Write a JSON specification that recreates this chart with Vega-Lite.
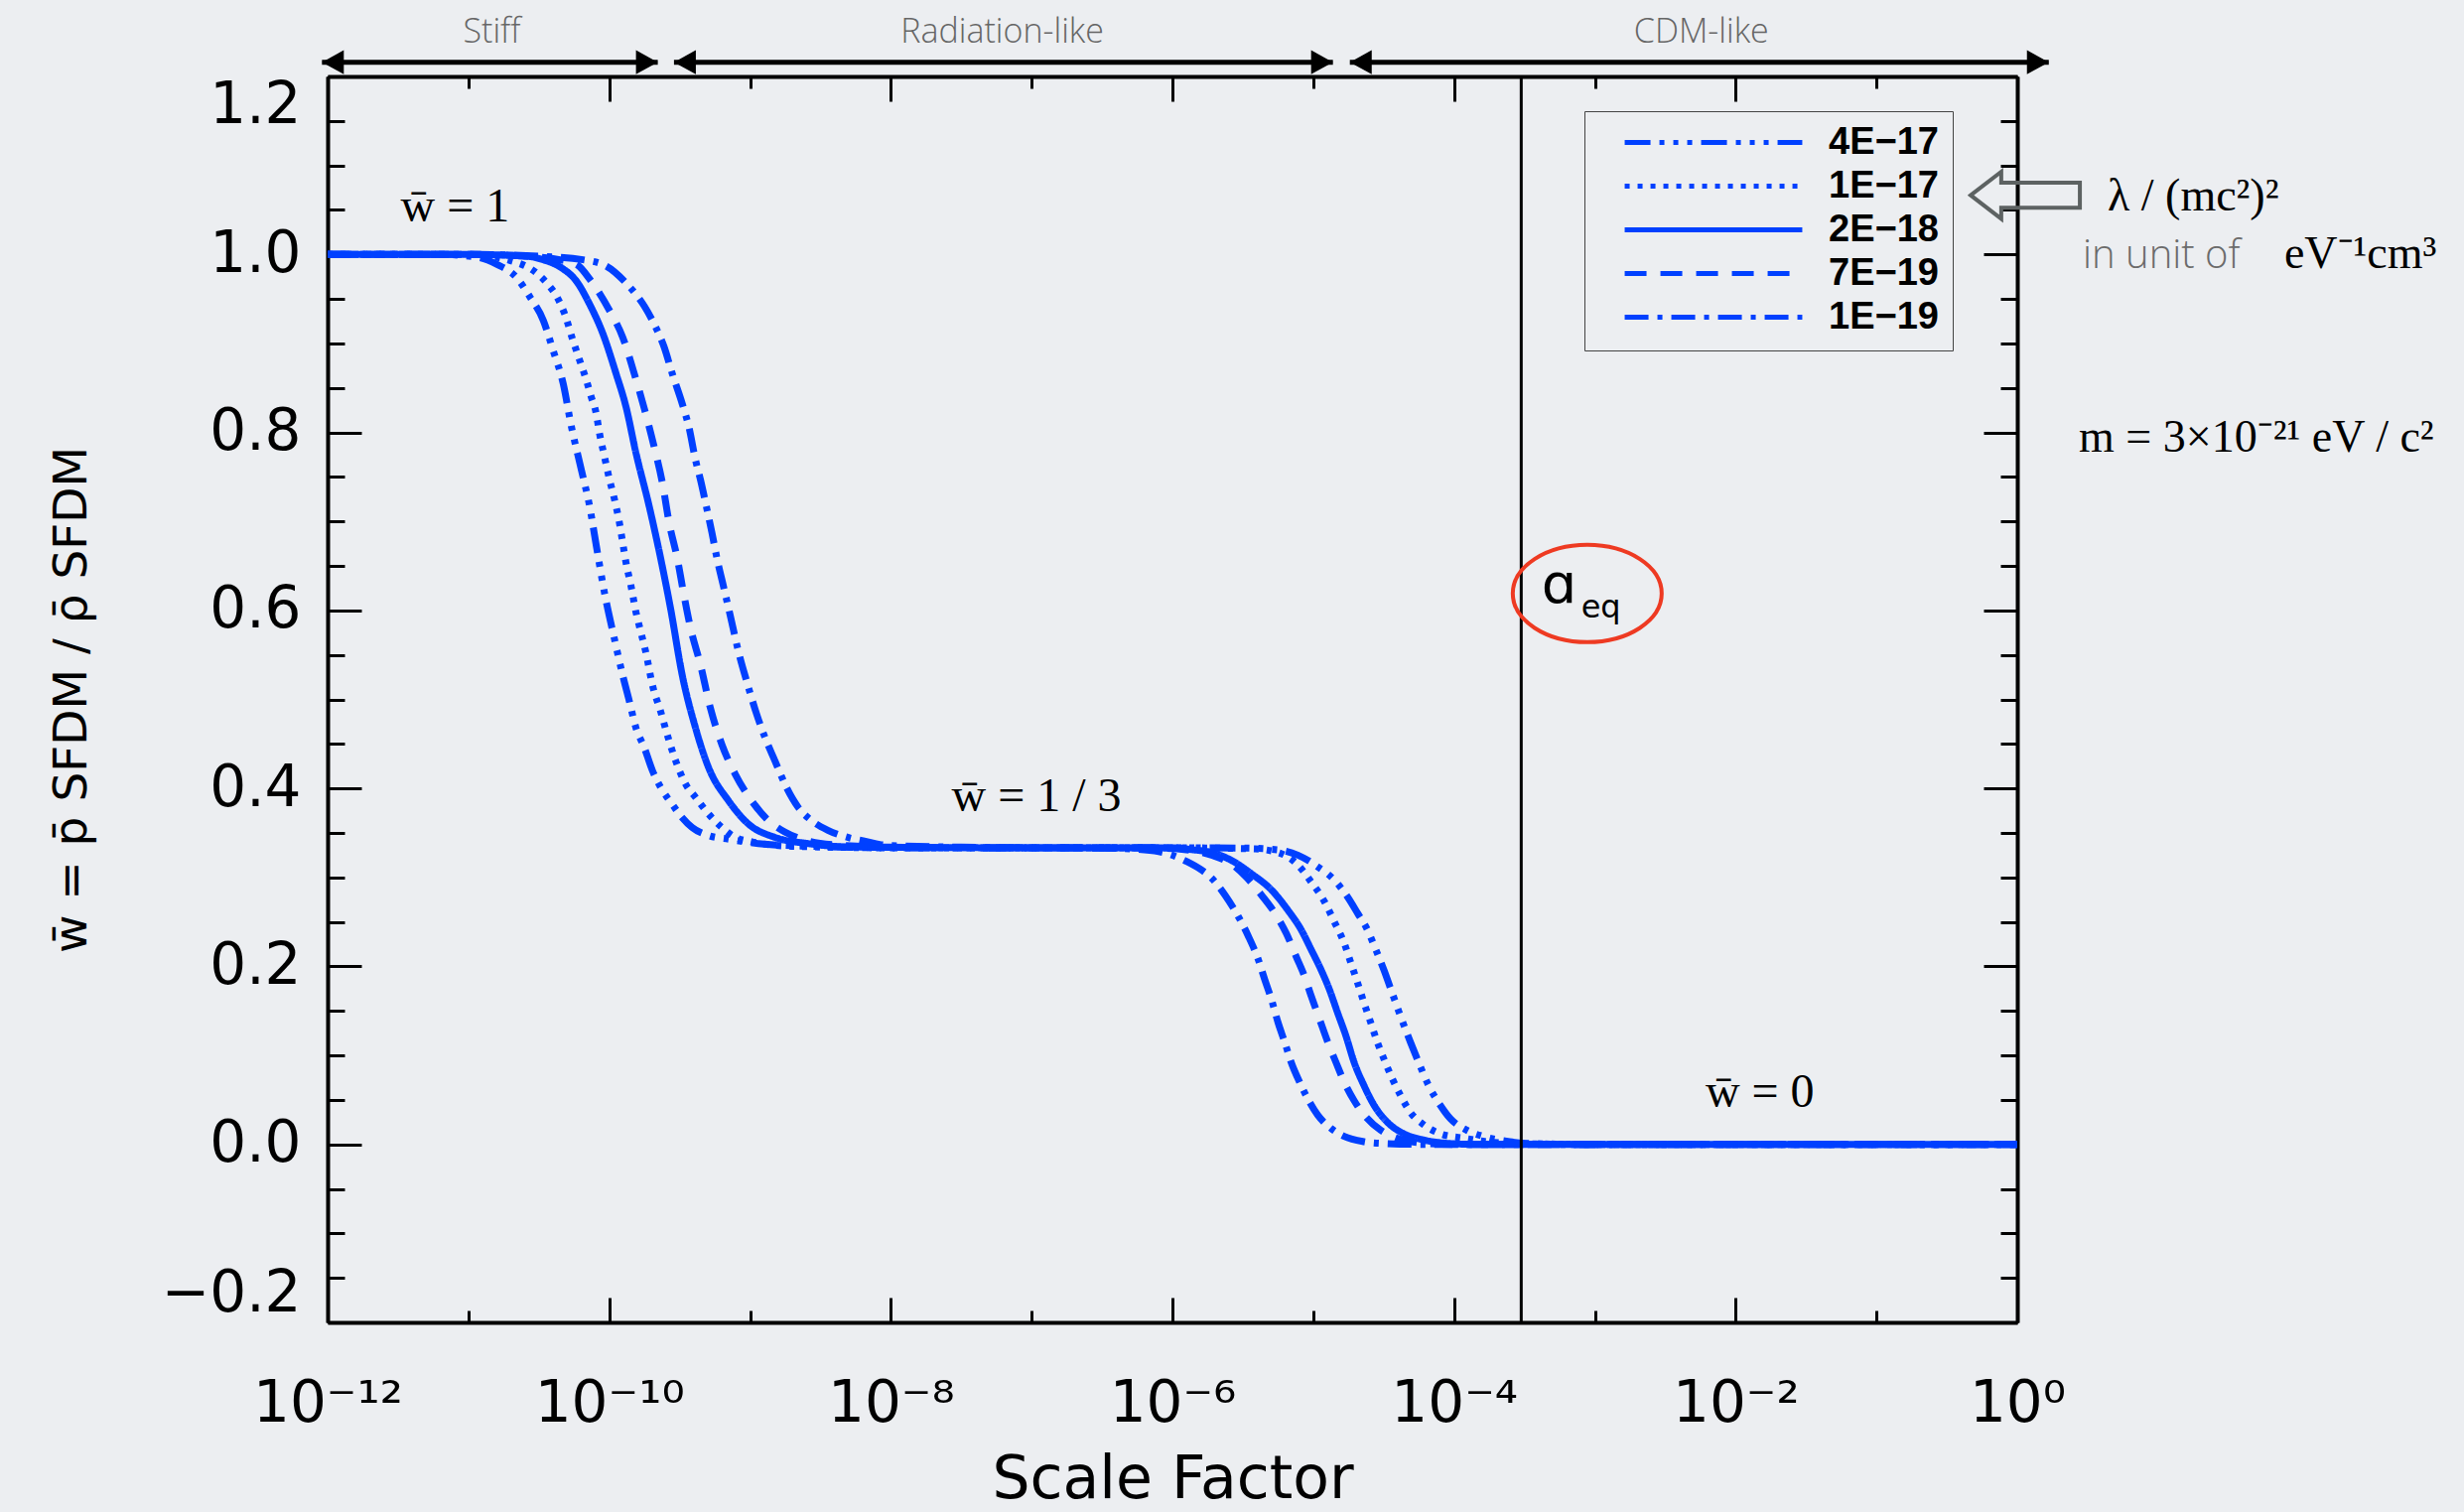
{
  "$schema": "https://vega.github.io/schema/vega-lite/v6.json",
  "width": 1702,
  "height": 1255,
  "autosize": {"type": "none"},
  "padding": {"left": 330, "top": 77, "right": 450, "bottom": 191},
  "background": "#eceef1",
  "config": {
    "view": {"stroke": null},
    "axis": {"grid": false, "domainColor": "#000000", "tickColor": "#000000", "labelColor": "#000000", "titleColor": "#000000"}
  },
  "resolve": {"axis": {"x": "independent", "y": "independent"}},
  "datasets": {
    "curves": [
      {"s": "4E−17", "a": 1e-12, "w": 1}, {"s": "4E−17", "a": 6.31e-12, "w": 1}, {"s": "4E−17", "a": 1.148e-11, "w": 0.997}, {"s": "4E−17", "a": 1.585e-11, "w": 0.989}, {"s": "4E−17", "a": 2.2e-11, "w": 0.974}, {"s": "4E−17", "a": 2.74e-11, "w": 0.952}, {"s": "4E−17", "a": 3.4e-11, "w": 0.926}, {"s": "4E−17", "a": 4.0e-11, "w": 0.892}, {"s": "4E−17", "a": 4.71e-11, "w": 0.855}, {"s": "4E−17", "a": 5.38e-11, "w": 0.807}, {"s": "4E−17", "a": 6.34e-11, "w": 0.758}, {"s": "4E−17", "a": 7.26e-11, "w": 0.717}, {"s": "4E−17", "a": 8.09e-11, "w": 0.673}, {"s": "4E−17", "a": 9.25e-11, "w": 0.62}, {"s": "4E−17", "a": 1.089e-10, "w": 0.568}, {"s": "4E−17", "a": 1.247e-10, "w": 0.527}, {"s": "4E−17", "a": 1.39e-10, "w": 0.498}, {"s": "4E−17", "a": 1.549e-10, "w": 0.468}, {"s": "4E−17", "a": 1.774e-10, "w": 0.446}, {"s": "4E−17", "a": 2.028e-10, "w": 0.42}, {"s": "4E−17", "a": 2.323e-10, "w": 0.401}, {"s": "4E−17", "a": 2.805e-10, "w": 0.382}, {"s": "4E−17", "a": 3.304e-10, "w": 0.367}, {"s": "4E−17", "a": 3.882e-10, "w": 0.356}, {"s": "4E−17", "a": 5.093e-10, "w": 0.347}, {"s": "4E−17", "a": 7.047e-10, "w": 0.343}, {"s": "4E−17", "a": 1.148e-9, "w": 0.338}, {"s": "4E−17", "a": 2.582e-9, "w": 0.335}, {"s": "4E−17", "a": 1e-8, "w": 0.3333}, {"s": "4E−17", "a": 1e-7, "w": 0.3333}, {"s": "4E−17", "a": 1e-6, "w": 0.3333}, {"s": "4E−17", "a": 3.16e-6, "w": 0.333}, {"s": "4E−17", "a": 5.623e-6, "w": 0.331}, {"s": "4E−17", "a": 7.78e-6, "w": 0.325}, {"s": "4E−17", "a": 1.076e-5, "w": 0.312}, {"s": "4E−17", "a": 1.413e-5, "w": 0.297}, {"s": "4E−17", "a": 1.754e-5, "w": 0.278}, {"s": "4E−17", "a": 2.061e-5, "w": 0.26}, {"s": "4E−17", "a": 2.427e-5, "w": 0.241}, {"s": "4E−17", "a": 2.78e-5, "w": 0.219}, {"s": "4E−17", "a": 3.177e-5, "w": 0.196}, {"s": "4E−17", "a": 3.639e-5, "w": 0.17}, {"s": "4E−17", "a": 4.169e-5, "w": 0.144}, {"s": "4E−17", "a": 4.898e-5, "w": 0.115}, {"s": "4E−17", "a": 5.61e-5, "w": 0.092}, {"s": "4E−17", "a": 6.607e-5, "w": 0.066}, {"s": "4E−17", "a": 7.98e-5, "w": 0.044}, {"s": "4E−17", "a": 9.397e-5, "w": 0.029}, {"s": "4E−17", "a": 1.23e-4, "w": 0.016}, {"s": "4E−17", "a": 1.702e-4, "w": 0.008}, {"s": "4E−17", "a": 2.489e-4, "w": 0.003}, {"s": "4E−17", "a": 3.443e-4, "w": 0.001}, {"s": "4E−17", "a": 1e-3, "w": 0}, {"s": "4E−17", "a": 1, "w": 0},

      {"s": "1E−17", "a": 1e-12, "w": 1}, {"s": "1E−17", "a": 1e-11, "w": 1}, {"s": "1E−17", "a": 1.995e-11, "w": 0.993}, {"s": "1E−17", "a": 3.055e-11, "w": 0.979}, {"s": "1E−17", "a": 3.69e-11, "w": 0.966}, {"s": "1E−17", "a": 4.227e-11, "w": 0.953}, {"s": "1E−17", "a": 4.831e-11, "w": 0.933}, {"s": "1E−17", "a": 5.534e-11, "w": 0.903}, {"s": "1E−17", "a": 6.166e-11, "w": 0.881}, {"s": "1E−17", "a": 6.871e-11, "w": 0.859}, {"s": "1E−17", "a": 7.447e-11, "w": 0.84}, {"s": "1E−17", "a": 8.091e-11, "w": 0.821}, {"s": "1E−17", "a": 8.531e-11, "w": 0.799}, {"s": "1E−17", "a": 9.247e-11, "w": 0.773}, {"s": "1E−17", "a": 1.005e-10, "w": 0.747}, {"s": "1E−17", "a": 1.089e-10, "w": 0.725}, {"s": "1E−17", "a": 1.18e-10, "w": 0.699}, {"s": "1E−17", "a": 1.247e-10, "w": 0.676}, {"s": "1E−17", "a": 1.315e-10, "w": 0.654}, {"s": "1E−17", "a": 1.426e-10, "w": 0.628}, {"s": "1E−17", "a": 1.549e-10, "w": 0.598}, {"s": "1E−17", "a": 1.633e-10, "w": 0.583}, {"s": "1E−17", "a": 1.82e-10, "w": 0.553}, {"s": "1E−17", "a": 2.028e-10, "w": 0.516}, {"s": "1E−17", "a": 2.323e-10, "w": 0.486}, {"s": "1E−17", "a": 2.588e-10, "w": 0.46}, {"s": "1E−17", "a": 2.965e-10, "w": 0.431}, {"s": "1E−17", "a": 3.483e-10, "w": 0.405}, {"s": "1E−17", "a": 4.102e-10, "w": 0.39}, {"s": "1E−17", "a": 5.093e-10, "w": 0.371}, {"s": "1E−17", "a": 6.324e-10, "w": 0.356}, {"s": "1E−17", "a": 7.852e-10, "w": 0.345}, {"s": "1E−17", "a": 1.028e-9, "w": 0.34}, {"s": "1E−17", "a": 1.972e-9, "w": 0.335}, {"s": "1E−17", "a": 1e-8, "w": 0.3333}, {"s": "1E−17", "a": 1e-7, "w": 0.3333}, {"s": "1E−17", "a": 1e-6, "w": 0.3333}, {"s": "1E−17", "a": 3.855e-6, "w": 0.332}, {"s": "1E−17", "a": 5.623e-6, "w": 0.328}, {"s": "1E−17", "a": 7.78e-6, "w": 0.314}, {"s": "1E−17", "a": 9.66e-6, "w": 0.295}, {"s": "1E−17", "a": 1.199e-5, "w": 0.273}, {"s": "1E−17", "a": 1.413e-5, "w": 0.25}, {"s": "1E−17", "a": 1.66e-5, "w": 0.226}, {"s": "1E−17", "a": 1.849e-5, "w": 0.204}, {"s": "1E−17", "a": 2.061e-5, "w": 0.182}, {"s": "1E−17", "a": 2.296e-5, "w": 0.159}, {"s": "1E−17", "a": 2.559e-5, "w": 0.137}, {"s": "1E−17", "a": 2.851e-5, "w": 0.115}, {"s": "1E−17", "a": 3.177e-5, "w": 0.096}, {"s": "1E−17", "a": 3.639e-5, "w": 0.074}, {"s": "1E−17", "a": 4.169e-5, "w": 0.055}, {"s": "1E−17", "a": 4.898e-5, "w": 0.036}, {"s": "1E−17", "a": 6.095e-5, "w": 0.022}, {"s": "1E−17", "a": 7.98e-5, "w": 0.012}, {"s": "1E−17", "a": 1.167e-4, "w": 0.007}, {"s": "1E−17", "a": 1.702e-4, "w": 0.003}, {"s": "1E−17", "a": 2.773e-4, "w": 0.001}, {"s": "1E−17", "a": 1e-3, "w": 0}, {"s": "1E−17", "a": 1, "w": 0},

      {"s": "2E−18", "a": 1e-12, "w": 1}, {"s": "2E−18", "a": 1e-11, "w": 1}, {"s": "2E−18", "a": 2.594e-11, "w": 0.998}, {"s": "2E−18", "a": 3.404e-11, "w": 0.994}, {"s": "2E−18", "a": 4.581e-11, "w": 0.985}, {"s": "2E−18", "a": 5.848e-11, "w": 0.97}, {"s": "2E−18", "a": 7.261e-11, "w": 0.944}, {"s": "2E−18", "a": 9.016e-11, "w": 0.911}, {"s": "2E−18", "a": 1.119e-10, "w": 0.866}, {"s": "2E−18", "a": 1.315e-10, "w": 0.829}, {"s": "2E−18", "a": 1.549e-10, "w": 0.777}, {"s": "2E−18", "a": 1.923e-10, "w": 0.717}, {"s": "2E−18", "a": 2.323e-10, "w": 0.658}, {"s": "2E−18", "a": 2.729e-10, "w": 0.602}, {"s": "2E−18", "a": 3.304e-10, "w": 0.527}, {"s": "2E−18", "a": 4.102e-10, "w": 0.468}, {"s": "2E−18", "a": 5.093e-10, "w": 0.423}, {"s": "2E−18", "a": 7.047e-10, "w": 0.386}, {"s": "2E−18", "a": 9.75e-10, "w": 0.36}, {"s": "2E−18", "a": 1.503e-9, "w": 0.345}, {"s": "2E−18", "a": 2.582e-9, "w": 0.338}, {"s": "2E−18", "a": 5.821e-9, "w": 0.334}, {"s": "2E−18", "a": 1e-7, "w": 0.3333}, {"s": "2E−18", "a": 1e-6, "w": 0.3333}, {"s": "2E−18", "a": 1.413e-6, "w": 0.331}, {"s": "2E−18", "a": 1.905e-6, "w": 0.328}, {"s": "2E−18", "a": 2.636e-6, "w": 0.319}, {"s": "2E−18", "a": 3.648e-6, "w": 0.304}, {"s": "2E−18", "a": 5.047e-6, "w": 0.286}, {"s": "2E−18", "a": 6.622e-6, "w": 0.263}, {"s": "2E−18", "a": 8.222e-6, "w": 0.241}, {"s": "2E−18", "a": 9.66e-6, "w": 0.219}, {"s": "2E−18", "a": 1.138e-5, "w": 0.196}, {"s": "2E−18", "a": 1.303e-5, "w": 0.174}, {"s": "2E−18", "a": 1.489e-5, "w": 0.148}, {"s": "2E−18", "a": 1.706e-5, "w": 0.122}, {"s": "2E−18", "a": 1.954e-5, "w": 0.092}, {"s": "2E−18", "a": 2.296e-5, "w": 0.066}, {"s": "2E−18", "a": 2.704e-5, "w": 0.044}, {"s": "2E−18", "a": 3.357e-5, "w": 0.025}, {"s": "2E−18", "a": 4.395e-5, "w": 0.012}, {"s": "2E−18", "a": 6.081e-5, "w": 0.005}, {"s": "2E−18", "a": 9.397e-5, "w": 0.001}, {"s": "2E−18", "a": 1.449e-4, "w": 0}, {"s": "2E−18", "a": 1, "w": 0},

      {"s": "7E−19", "a": 1e-12, "w": 1}, {"s": "7E−19", "a": 1e-11, "w": 1}, {"s": "7E−19", "a": 3.162e-11, "w": 0.997}, {"s": "7E−19", "a": 4.457e-11, "w": 0.994}, {"s": "7E−19", "a": 5.848e-11, "w": 0.989}, {"s": "7E−19", "a": 7.447e-11, "w": 0.97}, {"s": "7E−19", "a": 1.005e-10, "w": 0.937}, {"s": "7E−19", "a": 1.247e-10, "w": 0.907}, {"s": "7E−19", "a": 1.507e-10, "w": 0.866}, {"s": "7E−19", "a": 1.774e-10, "w": 0.827}, {"s": "7E−19", "a": 2.084e-10, "w": 0.784}, {"s": "7E−19", "a": 2.388e-10, "w": 0.743}, {"s": "7E−19", "a": 2.661e-10, "w": 0.699}, {"s": "7E−19", "a": 3.048e-10, "w": 0.658}, {"s": "7E−19", "a": 3.396e-10, "w": 0.617}, {"s": "7E−19", "a": 3.784e-10, "w": 0.58}, {"s": "7E−19", "a": 4.446e-10, "w": 0.539}, {"s": "7E−19", "a": 5.236e-10, "w": 0.49}, {"s": "7E−19", "a": 6.324e-10, "w": 0.449}, {"s": "7E−19", "a": 7.852e-10, "w": 0.416}, {"s": "7E−19", "a": 1.028e-9, "w": 0.386}, {"s": "7E−19", "a": 1.349e-9, "w": 0.364}, {"s": "7E−19", "a": 1.766e-9, "w": 0.351}, {"s": "7E−19", "a": 2.582e-9, "w": 0.341}, {"s": "7E−19", "a": 4.436e-9, "w": 0.336}, {"s": "7E−19", "a": 1e-8, "w": 0.334}, {"s": "7E−19", "a": 1e-7, "w": 0.3333}, {"s": "7E−19", "a": 5.012e-7, "w": 0.3333}, {"s": "7E−19", "a": 7.943e-7, "w": 0.333}, {"s": "7E−19", "a": 1.259e-6, "w": 0.331}, {"s": "7E−19", "a": 1.905e-6, "w": 0.325}, {"s": "7E−19", "a": 2.636e-6, "w": 0.315}, {"s": "7E−19", "a": 3.365e-6, "w": 0.3}, {"s": "7E−19", "a": 4.295e-6, "w": 0.28}, {"s": "7E−19", "a": 5.333e-6, "w": 0.26}, {"s": "7E−19", "a": 6.442e-6, "w": 0.237}, {"s": "7E−19", "a": 7.568e-6, "w": 0.211}, {"s": "7E−19", "a": 8.67e-6, "w": 0.189}, {"s": "7E−19", "a": 9.66e-6, "w": 0.167}, {"s": "7E−19", "a": 1.107e-5, "w": 0.141}, {"s": "7E−19", "a": 1.268e-5, "w": 0.115}, {"s": "7E−19", "a": 1.452e-5, "w": 0.092}, {"s": "7E−19", "a": 1.66e-5, "w": 0.07}, {"s": "7E−19", "a": 1.954e-5, "w": 0.049}, {"s": "7E−19", "a": 2.36e-5, "w": 0.031}, {"s": "7E−19", "a": 3.013e-5, "w": 0.016}, {"s": "7E−19", "a": 3.945e-5, "w": 0.007}, {"s": "7E−19", "a": 5.458e-5, "w": 0.002}, {"s": "7E−19", "a": 1e-4, "w": 0}, {"s": "7E−19", "a": 1, "w": 0},

      {"s": "1E−19", "a": 1e-12, "w": 1}, {"s": "1E−19", "a": 1e-11, "w": 1}, {"s": "1E−19", "a": 3.162e-11, "w": 0.998}, {"s": "1E−19", "a": 6.516e-11, "w": 0.994}, {"s": "1E−19", "a": 9.506e-11, "w": 0.987}, {"s": "1E−19", "a": 1.315e-10, "w": 0.968}, {"s": "1E−19", "a": 1.774e-10, "w": 0.942}, {"s": "1E−19", "a": 2.143e-10, "w": 0.918}, {"s": "1E−19", "a": 2.455e-10, "w": 0.896}, {"s": "1E−19", "a": 2.805e-10, "w": 0.866}, {"s": "1E−19", "a": 3.304e-10, "w": 0.832}, {"s": "1E−19", "a": 3.681e-10, "w": 0.806}, {"s": "1E−19", "a": 4.102e-10, "w": 0.769}, {"s": "1E−19", "a": 4.446e-10, "w": 0.747}, {"s": "1E−19", "a": 4.955e-10, "w": 0.713}, {"s": "1E−19", "a": 5.37e-10, "w": 0.687}, {"s": "1E−19", "a": 5.834e-10, "w": 0.658}, {"s": "1E−19", "a": 6.501e-10, "w": 0.626}, {"s": "1E−19", "a": 7.244e-10, "w": 0.594}, {"s": "1E−19", "a": 8.299e-10, "w": 0.553}, {"s": "1E−19", "a": 9.484e-10, "w": 0.52}, {"s": "1E−19", "a": 1.117e-9, "w": 0.483}, {"s": "1E−19", "a": 1.279e-9, "w": 0.457}, {"s": "1E−19", "a": 1.503e-9, "w": 0.431}, {"s": "1E−19", "a": 1.816e-9, "w": 0.401}, {"s": "1E−19", "a": 2.193e-9, "w": 0.379}, {"s": "1E−19", "a": 2.729e-9, "w": 0.364}, {"s": "1E−19", "a": 3.573e-9, "w": 0.353}, {"s": "1E−19", "a": 4.943e-9, "w": 0.345}, {"s": "1E−19", "a": 6.839e-9, "w": 0.34}, {"s": "1E−19", "a": 9.462e-9, "w": 0.336}, {"s": "1E−19", "a": 3.162e-8, "w": 0.334}, {"s": "1E−19", "a": 1e-7, "w": 0.3333}, {"s": "1E−19", "a": 3.162e-7, "w": 0.333}, {"s": "1E−19", "a": 6.31e-7, "w": 0.331}, {"s": "1E−19", "a": 9.12e-7, "w": 0.327}, {"s": "1E−19", "a": 1.259e-6, "w": 0.318}, {"s": "1E−19", "a": 1.585e-6, "w": 0.309}, {"s": "1E−19", "a": 1.905e-6, "w": 0.299}, {"s": "1E−19", "a": 2.366e-6, "w": 0.28}, {"s": "1E−19", "a": 2.938e-6, "w": 0.256}, {"s": "1E−19", "a": 3.459e-6, "w": 0.234}, {"s": "1E−19", "a": 4.064e-6, "w": 0.208}, {"s": "1E−19", "a": 4.529e-6, "w": 0.185}, {"s": "1E−19", "a": 5.047e-6, "w": 0.163}, {"s": "1E−19", "a": 5.623e-6, "w": 0.137}, {"s": "1E−19", "a": 6.266e-6, "w": 0.115}, {"s": "1E−19", "a": 6.982e-6, "w": 0.092}, {"s": "1E−19", "a": 7.998e-6, "w": 0.07}, {"s": "1E−19", "a": 9.162e-6, "w": 0.051}, {"s": "1E−19", "a": 1.076e-5, "w": 0.033}, {"s": "1E−19", "a": 1.337e-5, "w": 0.018}, {"s": "1E−19", "a": 1.66e-5, "w": 0.009}, {"s": "1E−19", "a": 2.296e-5, "w": 0.003}, {"s": "1E−19", "a": 3.177e-5, "w": 0.001}, {"s": "1E−19", "a": 6.31e-5, "w": 0}, {"s": "1E−19", "a": 1, "w": 0}
    ],
    "dummy": [{"a": 1e-6, "w": 0.5}]
  },
  "layer": [
    {
      "data": {"name": "curves"},
      "mark": {"type": "line", "color": "#0040ff", "strokeWidth": 7, "interpolate": "monotone", "clip": true},
      "encoding": {
        "x": {"field": "a", "type": "quantitative", "scale": {"type": "log", "domain": [1e-12, 1], "nice": false},
          "axis": {"orient": "bottom", "values": [1e-12, 1e-10, 1e-8, 1e-6, 1e-4, 1e-2, 1],
            "labelExpr": "datum.value < 1e-11 ? '10⁻¹²' : datum.value < 1e-9 ? '10⁻¹⁰' : datum.value < 1e-7 ? '10⁻⁸' : datum.value < 1e-5 ? '10⁻⁶' : datum.value < 1e-3 ? '10⁻⁴' : datum.value < 0.1 ? '10⁻²' : '10⁰'",
            "labelFont": "DejaVu Sans", "labelFontSize": 58, "labelPadding": 53, "labelFlush": false, "labelOverlap": false,
            "ticks": false, "domain": true, "domainWidth": 4,
            "title": "Scale Factor", "titleFont": "DejaVu Sans", "titleFontSize": 60, "titleFontWeight": "normal", "titlePadding": 18}},
        "y": {"field": "w", "type": "quantitative", "scale": {"domain": [-0.2, 1.2], "nice": false, "zero": false},
          "axis": {"orient": "left", "values": [-0.2, 0, 0.2, 0.4, 0.6, 0.8, 1, 1.2], "format": ".1f",
            "labelFont": "DejaVu Sans", "labelFontSize": 58, "labelPadding": 27, "labelFlush": true, "labelOverlap": false,
            "ticks": false, "domain": true, "domainWidth": 4,
            "title": "w̄ = p̄ SFDM / ρ̄ SFDM", "titleFont": "DejaVu Sans", "titleFontSize": 47, "titleFontWeight": "normal", "titlePadding": 66}},
        "strokeDash": {"field": "s", "type": "nominal",
          "scale": {"domain": ["4E−17", "1E−17", "2E−18", "7E−19", "1E−19"],
            "range": [[26, 9, 5, 9, 5, 9, 5, 9], [5, 8], [1, 0], [22, 14], [24, 9, 5, 9]]},
          "legend": {"title": null, "orient": "none", "legendX": 1266, "legendY": 35,
            "symbolType": "stroke", "symbolSize": 32000, "symbolStrokeWidth": 5, "symbolStrokeColor": "#0040ff",
            "clipHeight": 35, "rowPadding": 5, "padding": 14, "symbolOffset": 24, "labelOffset": 24,
            "labelFont": "Liberation Sans", "labelFontWeight": "bold", "labelFontSize": 38, "labelColor": "#000000",
            "strokeColor": "#444444"}}
      }
    },
    {
      "data": {"name": "dummy"},
      "mark": {"type": "point", "opacity": 0},
      "encoding": {
        "x": {"field": "a", "type": "quantitative", "scale": {"type": "log", "domain": [1e-12, 1], "nice": false},
          "axis": {"orient": "bottom", "values": [1e-12, 1e-10, 1e-8, 1e-6, 1e-4, 1e-2, 1], "labels": false, "domain": false, "tickSize": -25, "tickWidth": 3, "title": null}},
        "y": {"field": "w", "type": "quantitative", "scale": {"domain": [-0.2, 1.2], "nice": false, "zero": false},
          "axis": {"orient": "left", "values": [-0.2, 0, 0.2, 0.4, 0.6, 0.8, 1, 1.2], "labels": false, "domain": false, "tickSize": -34, "tickWidth": 3, "title": null}}
      }
    },
    {
      "data": {"name": "dummy"},
      "mark": {"type": "point", "opacity": 0},
      "encoding": {
        "x": {"field": "a", "type": "quantitative", "scale": {"type": "log", "domain": [1e-12, 1], "nice": false},
          "axis": {"orient": "bottom", "values": [1e-11, 1e-9, 1e-7, 1e-5, 1e-3, 1e-1], "labels": false, "domain": false, "tickSize": -12, "tickWidth": 3, "title": null}},
        "y": {"field": "w", "type": "quantitative", "scale": {"domain": [-0.2, 1.2], "nice": false, "zero": false},
          "axis": {"orient": "left", "values": [-0.15, -0.1, -0.05, 0.05, 0.1, 0.15, 0.25, 0.3, 0.35, 0.45, 0.5, 0.55, 0.65, 0.7, 0.75, 0.85, 0.9, 0.95, 1.05, 1.1, 1.15], "labels": false, "domain": false, "tickSize": -17, "tickWidth": 3, "title": null}}
      }
    },
    {
      "data": {"name": "dummy"},
      "mark": {"type": "point", "opacity": 0},
      "encoding": {
        "x": {"field": "a", "type": "quantitative", "scale": {"type": "log", "domain": [1e-12, 1], "nice": false},
          "axis": {"orient": "top", "values": [1e-12, 1e-10, 1e-8, 1e-6, 1e-4, 1e-2, 1], "labels": false, "domain": true, "domainWidth": 4, "tickSize": -25, "tickWidth": 3, "title": null}},
        "y": {"field": "w", "type": "quantitative", "scale": {"domain": [-0.2, 1.2], "nice": false, "zero": false},
          "axis": {"orient": "right", "values": [-0.2, 0, 0.2, 0.4, 0.6, 0.8, 1, 1.2], "labels": false, "domain": true, "domainWidth": 4, "tickSize": -34, "tickWidth": 3, "title": null}}
      }
    },
    {
      "data": {"name": "dummy"},
      "mark": {"type": "point", "opacity": 0},
      "encoding": {
        "x": {"field": "a", "type": "quantitative", "scale": {"type": "log", "domain": [1e-12, 1], "nice": false},
          "axis": {"orient": "top", "values": [1e-11, 1e-9, 1e-7, 1e-5, 1e-3, 1e-1], "labels": false, "domain": false, "tickSize": -12, "tickWidth": 3, "title": null}},
        "y": {"field": "w", "type": "quantitative", "scale": {"domain": [-0.2, 1.2], "nice": false, "zero": false},
          "axis": {"orient": "right", "values": [-0.15, -0.1, -0.05, 0.05, 0.1, 0.15, 0.25, 0.3, 0.35, 0.45, 0.5, 0.55, 0.65, 0.7, 0.75, 0.85, 0.9, 0.95, 1.05, 1.1, 1.15], "labels": false, "domain": false, "tickSize": -17, "tickWidth": 3, "title": null}}
      }
    },
    {
      "data": {"values": [{"a": 3e-4}]},
      "mark": {"type": "rule", "color": "#000000", "strokeWidth": 3},
      "encoding": {
        "x": {"field": "a", "type": "quantitative", "scale": {"type": "log", "domain": [1e-12, 1], "nice": false}, "axis": null}
      }
    },
    {
      "data": {"values": [
        {"a": 3.3e-12, "w": 1.0375, "t": "w̄ = 1"},
        {"a": 2.7e-8, "w": 0.3746, "t": "w̄ = 1 / 3"},
        {"a": 6.1e-3, "w": 0.042, "t": "w̄ = 0"}
      ]},
      "mark": {"type": "text", "font": "Liberation Serif", "fontSize": 48, "align": "left", "baseline": "alphabetic", "color": "#000000"},
      "encoding": {
        "x": {"field": "a", "type": "quantitative", "scale": {"type": "log", "domain": [1e-12, 1], "nice": false}, "axis": null},
        "y": {"field": "w", "type": "quantitative", "scale": {"domain": [-0.2, 1.2], "nice": false, "zero": false}, "axis": null},
        "text": {"field": "t"}
      }
    },
    {
      "data": {"values": [
        {"a": 4.38, "w": 1.0498, "t": "λ / (mc²)²"},
        {"a": 78.7, "w": 0.985, "t": "eV⁻¹cm³"},
        {"a": 2.74, "w": 0.7785, "t": "m = 3×10⁻²¹ eV / c²"}
      ]},
      "mark": {"type": "text", "font": "Liberation Serif", "fontSize": 46, "align": "left", "baseline": "alphabetic", "color": "#000000"},
      "encoding": {
        "x": {"field": "a", "type": "quantitative", "scale": {"type": "log", "domain": [1e-12, 1], "nice": false}, "axis": null},
        "y": {"field": "w", "type": "quantitative", "scale": {"domain": [-0.2, 1.2], "nice": false, "zero": false}, "axis": null},
        "text": {"field": "t"}
      }
    },
    {
      "data": {"values": [{"a": 2.92, "w": 0.985, "t": "in unit of"}]},
      "mark": {"type": "text", "font": "Open Sans", "fontWeight": 300, "fontSize": 40, "align": "left", "baseline": "alphabetic", "color": "#6b6b6b"},
      "encoding": {
        "x": {"field": "a", "type": "quantitative", "scale": {"type": "log", "domain": [1e-12, 1], "nice": false}, "axis": null},
        "y": {"field": "w", "type": "quantitative", "scale": {"domain": [-0.2, 1.2], "nice": false, "zero": false}, "axis": null},
        "text": {"field": "t"}
      }
    },
    {
      "data": {"values": [
        {"a": 1.469e-11, "w": 1.2384, "t": "Stiff"},
        {"a": 6.19e-8, "w": 1.2384, "t": "Radiation-like"},
        {"a": 5.71e-3, "w": 1.2384, "t": "CDM-like"}
      ]},
      "mark": {"type": "text", "font": "Open Sans", "fontWeight": 300, "fontSize": 34, "align": "center", "baseline": "alphabetic", "color": "#666666"},
      "encoding": {
        "x": {"field": "a", "type": "quantitative", "scale": {"type": "log", "domain": [1e-12, 1], "nice": false}, "axis": null},
        "y": {"field": "w", "type": "quantitative", "scale": {"domain": [-0.2, 1.2], "nice": false, "zero": false}, "axis": null},
        "text": {"field": "t"}
      }
    },
    {
      "data": {"values": [
        {"a1": 9.12e-13, "a2": 2.213e-10, "w": 1.216},
        {"a1": 2.884e-10, "a2": 1.38e-5, "w": 1.216},
        {"a1": 1.82e-5, "a2": 1.675, "w": 1.216}
      ]},
      "layer": [
        {
          "mark": {"type": "rule", "color": "#000000", "strokeWidth": 5},
          "encoding": {
            "x": {"field": "a1", "type": "quantitative", "scale": {"type": "log", "domain": [1e-12, 1], "nice": false}, "axis": null},
            "x2": {"field": "a2"},
            "y": {"field": "w", "type": "quantitative", "scale": {"domain": [-0.2, 1.2], "nice": false, "zero": false}, "axis": null}
          }
        },
        {
          "mark": {"type": "point", "shape": "M 0 0 L 1 -0.55 L 1 0.55 Z", "filled": true, "color": "#000000", "opacity": 1, "size": 1936},
          "encoding": {
            "x": {"field": "a1", "type": "quantitative", "scale": {"type": "log", "domain": [1e-12, 1], "nice": false}, "axis": null},
            "y": {"field": "w", "type": "quantitative", "scale": {"domain": [-0.2, 1.2], "nice": false, "zero": false}, "axis": null}
          }
        },
        {
          "mark": {"type": "point", "shape": "M 0 0 L -1 -0.55 L -1 0.55 Z", "filled": true, "color": "#000000", "opacity": 1, "size": 1936},
          "encoding": {
            "x": {"field": "a2", "type": "quantitative", "scale": {"type": "log", "domain": [1e-12, 1], "nice": false}, "axis": null},
            "y": {"field": "w", "type": "quantitative", "scale": {"domain": [-0.2, 1.2], "nice": false, "zero": false}, "axis": null}
          }
        }
      ]
    },
    {
      "data": {"values": [{"a": 4.18e-4, "w": 0.609, "t": "ɑ"}]},
      "mark": {"type": "text", "font": "DejaVu Sans", "fontSize": 56, "align": "left", "baseline": "alphabetic", "color": "#000000"},
      "encoding": {
        "x": {"field": "a", "type": "quantitative", "scale": {"type": "log", "domain": [1e-12, 1], "nice": false}, "axis": null},
        "y": {"field": "w", "type": "quantitative", "scale": {"domain": [-0.2, 1.2], "nice": false, "zero": false}, "axis": null},
        "text": {"field": "t"}
      }
    },
    {
      "data": {"values": [{"a": 7.99e-4, "w": 0.592, "t": "eq"}]},
      "mark": {"type": "text", "font": "DejaVu Sans", "fontSize": 32, "align": "left", "baseline": "alphabetic", "color": "#000000"},
      "encoding": {
        "x": {"field": "a", "type": "quantitative", "scale": {"type": "log", "domain": [1e-12, 1], "nice": false}, "axis": null},
        "y": {"field": "w", "type": "quantitative", "scale": {"domain": [-0.2, 1.2], "nice": false, "zero": false}, "axis": null},
        "text": {"field": "t"}
      }
    },
    {
      "data": {"values": [{"a": 8.83e-4, "w": 0.619}]},
      "mark": {"type": "point", "shape": "M -1 0 A 1 0.653 0 1 0 1 0 A 1 0.653 0 1 0 -1 0 Z", "filled": false, "stroke": "#ee3a22", "strokeWidth": 4, "opacity": 1, "size": 22500},
      "encoding": {
        "x": {"field": "a", "type": "quantitative", "scale": {"type": "log", "domain": [1e-12, 1], "nice": false}, "axis": null},
        "y": {"field": "w", "type": "quantitative", "scale": {"domain": [-0.2, 1.2], "nice": false, "zero": false}, "axis": null}
      }
    },
    {
      "data": {"values": [{"a": 1.14, "w": 1.0665}]},
      "mark": {"type": "point", "shape": "M -1 0 L -0.44 -0.43 L -0.44 -0.23 L 1 -0.23 L 1 0.23 L -0.44 0.23 L -0.44 0.43 Z", "filled": false, "stroke": "#5d6262", "strokeWidth": 4, "opacity": 1, "size": 12100},
      "encoding": {
        "x": {"field": "a", "type": "quantitative", "scale": {"type": "log", "domain": [1e-12, 1], "nice": false}, "axis": null},
        "y": {"field": "w", "type": "quantitative", "scale": {"domain": [-0.2, 1.2], "nice": false, "zero": false}, "axis": null}
      }
    }
  ]
}
